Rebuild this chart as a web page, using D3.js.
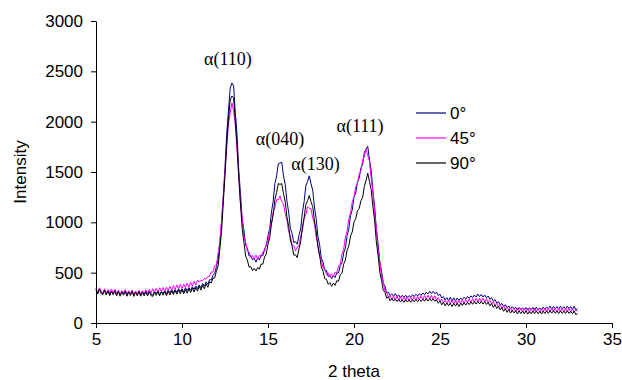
<!DOCTYPE html>
<html>
<head>
<meta charset="utf-8">
<script src="https://cdn.jsdelivr.net/npm/d3@7"></script>
<style>
  html, body { margin: 0; padding: 0; background: #fff; }
  svg { display: block; }
</style>
</head>
<body>
<svg id="chart" width="622" height="380"></svg>
<script>
// ---- data ----
const twoThetaStart = 5;
const twoThetaStep = 0.1;

const series0 = [
  335, 298, 340, 310, 292, 330, 288, 322, 286, 318,
  296, 325, 282, 316, 278, 312, 292, 320, 280, 310,
  288, 318, 276, 306, 284, 315, 278, 308, 286, 312,
  280, 314, 290, 276, 312, 292, 318, 282, 310, 296,
  320, 290, 326, 300, 330, 302, 332, 306, 338, 312,
  340, 310, 348, 322, 352, 326, 360, 334, 368, 342,
  378, 350, 392, 366, 408, 384, 430, 428, 472, 492,
  560, 632, 800, 990, 1262, 1548, 1875, 2105, 2330, 2385,
  2355, 2090, 1870, 1520, 1285, 1030, 925, 772, 742, 665,
  670, 628, 642, 604, 648, 626, 676, 668, 738, 768,
  868, 940, 1102, 1208, 1385, 1462, 1582, 1590, 1598, 1462,
  1378, 1212, 1102, 942, 888, 798, 808, 782, 870, 935,
  1098, 1205, 1362, 1405, 1462, 1385, 1318, 1152, 1038, 862,
  778, 642, 608, 522, 522, 462, 478, 440, 472, 452,
  498, 496, 570, 596, 698, 746, 868, 936, 1068, 1124,
  1250, 1292, 1400, 1436, 1540, 1572, 1695, 1725, 1755, 1620,
  1518, 1312, 1160, 932, 790, 602, 518, 396, 368, 298,
  305, 272, 288, 266, 292, 262, 278, 250, 275, 255,
  276, 252, 272, 258, 280, 264, 286, 268, 292, 274,
  298, 280, 306, 288, 316, 292, 314, 290, 306, 272,
  286, 248, 262, 228, 252, 220, 256, 218, 250, 216,
  248, 226, 246, 232, 256, 238, 264, 244, 270, 252,
  278, 258, 288, 262, 284, 258, 278, 250, 268, 236,
  252, 218, 232, 198, 212, 180, 194, 164, 182, 150,
  170, 140, 162, 142, 156, 130, 154, 134, 150, 132,
  154, 128, 152, 132, 156, 126, 158, 132, 150, 130,
  158, 134, 160, 140, 168, 136, 166, 140, 164, 138,
  166, 140, 162, 138, 168, 144, 164, 136, 166, 130,
  140
];

const series45 = [
  345, 305, 350, 315, 300, 340, 296, 332, 300, 338,
  298, 335, 290, 328, 286, 322, 296, 332, 288, 320,
  292, 328, 282, 318, 290, 326, 286, 322, 294, 330,
  296, 334, 300, 340, 304, 344, 308, 350, 312, 352,
  316, 356, 322, 364, 326, 372, 332, 378, 338, 384,
  344, 388, 350, 396, 358, 404, 366, 414, 378, 426,
  406, 424, 420, 442, 436, 462, 462, 508, 504, 568,
  575, 695, 805, 1025, 1235, 1515, 1735, 1975, 2085, 2185,
  2105, 1965, 1705, 1465, 1185, 1025, 865, 805, 715, 705,
  652, 672, 634, 676, 632, 674, 656, 708, 706, 786,
  815, 925, 985, 1105, 1145, 1225, 1225, 1262, 1205, 1185,
  1085, 1025, 905, 865, 775, 768, 716, 756, 764, 866,
  915, 1035, 1075, 1155, 1138, 1135, 1045, 985, 855, 785,
  665, 628, 545, 538, 480, 496, 455, 488, 460, 506,
  498, 566, 584, 686, 734, 856, 914, 1036, 1094, 1206,
  1254, 1356, 1384, 1478, 1514, 1616, 1652, 1728, 1664, 1606,
  1434, 1296, 1084, 936, 734, 616, 464, 408, 314, 306,
  254, 272, 234, 270, 228, 266, 224, 262, 222, 260,
  224, 262, 220, 260, 224, 264, 226, 266, 230, 270,
  232, 272, 236, 276, 238, 274, 234, 270, 226, 252,
  214, 236, 200, 226, 192, 228, 190, 226, 188, 224,
  190, 226, 192, 230, 196, 234, 200, 238, 204, 242,
  208, 246, 210, 248, 212, 246, 208, 242, 200, 226,
  188, 212, 172, 198, 158, 184, 144, 170, 134, 160,
  126, 150, 116, 152, 112, 148, 110, 146, 108, 144,
  110, 146, 106, 144, 108, 146, 110, 144, 106, 142,
  108, 146, 110, 148, 112, 150, 114, 148, 110, 146,
  112, 148, 108, 146, 110, 148, 106, 144, 108, 132,
  115
];

const series90 = [
  330, 288, 336, 292, 282, 326, 278, 318, 272, 314,
  280, 320, 270, 314, 266, 310, 276, 316, 266, 310,
  272, 314, 264, 306, 270, 312, 266, 306, 270, 310,
  268, 310, 272, 264, 308, 274, 314, 270, 310, 276,
  312, 272, 316, 278, 320, 282, 324, 286, 328, 290,
  330, 290, 334, 296, 340, 302, 346, 308, 352, 316,
  366, 326, 376, 340, 390, 354, 410, 396, 446, 448,
  515, 565, 735, 905, 1195, 1465, 1795, 2015, 2215, 2255,
  2235, 2005, 1775, 1445, 1185, 935, 805, 665, 625, 555,
  560, 520, 543, 517, 551, 535, 585, 585, 655, 685,
  785, 845, 985, 1075, 1225, 1295, 1385, 1377, 1385, 1285,
  1205, 1055, 965, 825, 765, 675, 677, 650, 735, 805,
  955, 1045, 1175, 1215, 1267, 1205, 1155, 1015, 915, 755,
  675, 555, 515, 440, 435, 385, 401, 365, 397, 375,
  420, 415, 480, 495, 585, 625, 725, 765, 865, 905,
  1005, 1035, 1115, 1135, 1215, 1245, 1355, 1415, 1487, 1405,
  1325, 1155, 1015, 805, 675, 505, 425, 325, 305, 245,
  262, 220, 244, 218, 238, 214, 234, 210, 230, 206,
  232, 208, 228, 206, 232, 210, 234, 212, 236, 214,
  238, 216, 242, 218, 244, 220, 240, 216, 232, 196,
  220, 180, 206, 170, 198, 172, 196, 164, 194, 168,
  196, 164, 198, 174, 202, 178, 206, 182, 210, 186,
  214, 188, 216, 190, 216, 188, 212, 184, 206, 170,
  194, 156, 180, 144, 166, 130, 152, 116, 142, 106,
  136, 98, 126, 100, 122, 90, 120, 94, 118, 92,
  120, 88, 116, 92, 118, 94, 120, 92, 116, 90,
  118, 94, 120, 96, 122, 98, 124, 96, 120, 94,
  122, 96, 118, 94, 120, 96, 116, 92, 118, 82,
  95
];

const seriesNames = ["0°", "45°", "90°"];
const seriesColors = ["#000080", "#FF00FF", "#000000"];

const xTicks = [5, 10, 15, 20, 25, 30, 35];
const yTicks = [0, 500, 1000, 1500, 2000, 2500, 3000];
const xTitle = "2 theta";
const yTitle = "Intensity";

const peakNames = ["α(110)", "α(040)", "α(130)", "α(111)"];
const peakAt2Theta = [12.67, 15.7, 17.76, 20.35];
const peakAtIntensity = [2567, 1771, 1522, 1900];

// ---- drawing ----
const sans = "'Liberation Sans', Arial, Helvetica, sans-serif";
const serif = "'Liberation Serif', 'Times New Roman', Times, serif";
const fontSize = 17;

const svg = d3.select("#chart");
const x = d3.scaleLinear().domain([5, 35]).range([96, 612]);
const y = d3.scaleLinear().domain([0, 3000]).range([323, 21]);

const allSeries = [series0, series45, series90];

const line = d3.line()
  .x((d, i) => x(twoThetaStart + i * twoThetaStep))
  .y(d => y(d));

svg.append("g").selectAll("path")
  .data(allSeries)
  .join("path")
  .attr("d", d => line(d))
  .attr("fill", "none")
  .attr("stroke", (d, i) => seriesColors[i])
  .attr("stroke-width", 1)
  .attr("stroke-linejoin", "miter");

// axes
const xAxis = svg.append("g")
  .attr("transform", `translate(0,${y(0)})`)
  .call(d3.axisBottom(x).tickValues(xTicks).tickFormat(d3.format("d"))
    .tickSize(5).tickSizeOuter(0).tickPadding(5));
const yAxis = svg.append("g")
  .attr("transform", `translate(${x(5)},0)`)
  .call(d3.axisLeft(y).tickValues(yTicks).tickFormat(d3.format("d"))
    .tickSize(5).tickSizeOuter(0).tickPadding(8));

[xAxis, yAxis].forEach(a => {
  a.selectAll("path.domain").attr("stroke", "#000").attr("stroke-width", 1);
  a.selectAll(".tick line").attr("stroke", "#000");
  a.selectAll(".tick text")
    .style("font-family", sans)
    .style("font-size", fontSize + "px")
    .attr("fill", "#000");
});

// axis titles
svg.append("text")
  .attr("x", (x(5) + x(35)) / 2)
  .attr("y", 377)
  .attr("text-anchor", "middle")
  .style("font-family", sans)
  .style("font-size", fontSize + "px")
  .text(xTitle);

svg.append("text")
  .attr("transform", `translate(26,${(y(0) + y(3000)) / 2}) rotate(-90)`)
  .attr("text-anchor", "middle")
  .style("font-family", sans)
  .style("font-size", fontSize + "px")
  .text(yTitle);

// peak labels
svg.append("g").selectAll("text")
  .data(peakNames)
  .join("text")
  .attr("x", (d, i) => x(peakAt2Theta[i]))
  .attr("y", (d, i) => y(peakAtIntensity[i]))
  .attr("text-anchor", "middle")
  .style("font-family", serif)
  .style("font-size", "18px")
  .text(d => d);

// legend
const legend = svg.append("g").attr("transform", "translate(416,113)");
const items = legend.selectAll("g")
  .data(seriesNames)
  .join("g")
  .attr("transform", (d, i) => `translate(0,${i * 25})`);
items.append("line")
  .attr("x1", 0).attr("x2", 30)
  .attr("y1", 0).attr("y2", 0)
  .attr("stroke", (d, i) => seriesColors[i])
  .attr("stroke-width", 1.2);
items.append("text")
  .attr("x", 34)
  .attr("y", 0)
  .attr("dy", "0.35em")
  .style("font-family", sans)
  .style("font-size", fontSize + "px")
  .text(d => d);
</script>
</body>
</html>
